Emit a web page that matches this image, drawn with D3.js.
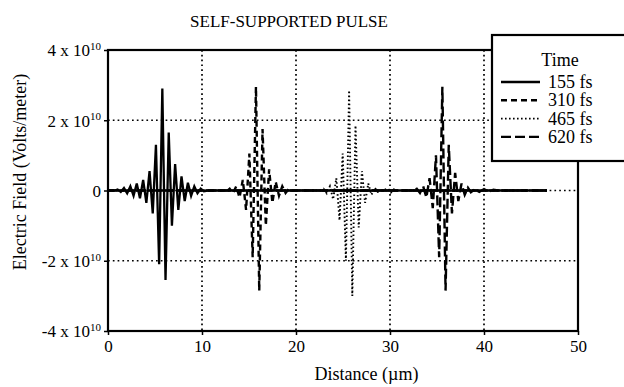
<!DOCTYPE html>
<html>
<head>
<meta charset="utf-8">
<script src="https://cdn.jsdelivr.net/npm/d3@7"></script>
<style>
  body { margin: 0; background: #fff; }
  text { font-family: "Liberation Serif", "DejaVu Serif", serif; fill: #000; }
</style>
</head>
<body>
<svg id="chart" width="624" height="387"></svg>
<script>
// axis ticks
const xTicks = [0, 10, 20, 30, 40, 50];
const yTicks = [-4, -2, 0, 2, 4];          // x 10^10 V/m
const gridX = [10, 20, 30, 40];
const gridY = [-2, 0, 2];

// pulse extrema: [distance µm, field x 10^10 V/m]
const pulse155 = [
  [0, 0], [0.7, 0], [1.02, 0.03], [1.36, -0.04], [1.70, 0.07], [2.04, -0.08], [2.38, 0.12],
  [2.72, -0.15], [3.06, 0.2], [3.40, -0.22], [3.74, 0.3], [4.08, -0.35], [4.42, 0.55],
  [4.76, -0.65], [5.10, 1.3], [5.44, -2.1], [5.78, 2.9], [6.12, -2.55], [6.46, 1.65],
  [6.80, -1.0], [7.14, 0.75], [7.48, -0.55], [7.82, 0.4], [8.16, -0.3], [8.50, 0.22],
  [8.84, -0.15], [9.18, 0.12], [9.52, -0.08], [9.86, 0.05], [10.2, -0.02], [10.6, 0], [46.7, 0]
];
const pulse310 = [
  [0, 0], [12.2, 0], [12.59, -0.03], [12.94, 0.05], [13.29, -0.08], [13.64, 0.12],
  [13.99, -0.2], [14.34, 0.3], [14.69, -0.55], [15.04, 1.05], [15.39, -1.9], [15.74, 2.95],
  [16.09, -2.85], [16.44, 1.75], [16.79, -1.0], [17.14, 0.6], [17.49, -0.35], [17.84, 0.25],
  [18.19, -0.15], [18.54, 0.12], [18.89, -0.07], [19.24, 0.05], [19.6, 0], [46.7, 0]
];
const pulse465 = [
  [0, 0], [22.6, 0], [22.93, 0.05], [23.27, -0.08], [23.61, 0.12], [23.95, -0.25],
  [24.29, 0.35], [24.63, -0.85], [24.97, 1.05], [25.31, -2.0], [25.65, 2.85], [25.99, -3.0],
  [26.33, 1.85], [26.67, -1.05], [27.01, 0.55], [27.35, -0.35], [27.69, 0.2], [28.03, -0.12],
  [28.37, 0.08], [28.7, -0.04], [29.1, 0], [29.8, 0.05], [30.1, -0.06], [30.4, 0.03],
  [30.8, 0], [46.7, 0]
];
const pulse620 = [
  [0, 0], [32.5, 0], [32.85, 0.05], [33.19, -0.07], [33.53, 0.12], [33.87, -0.2],
  [34.21, 0.35], [34.55, -0.5], [34.89, 1.0], [35.23, -1.9], [35.57, 2.95], [35.91, -2.85],
  [36.25, 1.3], [36.59, -0.65], [36.93, 0.5], [37.27, -0.3], [37.61, 0.2], [37.95, -0.12],
  [38.29, 0.08], [38.6, -0.05], [39.0, 0.03], [39.5, -0.04], [40.0, 0.04], [40.5, -0.03],
  [41.0, 0.02], [41.5, 0], [46.7, 0]
];
const seriesNames = ['155 fs', '310 fs', '465 fs', '620 fs'];

const W = 624, H = 387;
const m = { left: 108, right: 46, top: 50, bottom: 56 };

const svg = d3.select('#chart');

const x = d3.scaleLinear().domain([0, 50]).range([m.left, W - m.right]);
const y = d3.scaleLinear().domain([-4, 4]).range([H - m.bottom, m.top]);

// dotted grid
svg.append('g').selectAll('line')
  .data(gridX).enter().append('line')
  .attr('x1', d => x(d)).attr('x2', d => x(d))
  .attr('y1', y(4)).attr('y2', y(-4))
  .attr('stroke', '#000').attr('stroke-width', 1.7)
  .attr('stroke-dasharray', '1.7,3.1');

svg.append('g').selectAll('line')
  .data(gridY).enter().append('line')
  .attr('x1', x(0)).attr('x2', x(50))
  .attr('y1', d => y(d)).attr('y2', d => y(d))
  .attr('stroke', '#000').attr('stroke-width', 1.7)
  .attr('stroke-dasharray', '1.7,3.1');

// series
const styles = [
  { data: pulse155, dash: null,      w: 2.3 },
  { data: pulse310, dash: '6,4',     w: 2.4 },
  { data: pulse465, dash: '1.6,2.4', w: 1.9 },
  { data: pulse620, dash: '10,4',    w: 2.4 }
];

const line = d3.line().x(d => x(d[0])).y(d => y(d[1]));

svg.append('g').selectAll('path')
  .data(styles).enter().append('path')
  .attr('d', s => line(s.data))
  .attr('fill', 'none')
  .attr('stroke', '#000')
  .attr('stroke-width', s => s.w)
  .attr('stroke-linejoin', 'miter')
  .attr('stroke-dasharray', s => s.dash);

// frame
svg.append('rect')
  .attr('x', x(0)).attr('y', y(4))
  .attr('width', x(50) - x(0)).attr('height', y(-4) - y(4))
  .attr('fill', 'none').attr('stroke', '#000').attr('stroke-width', 2.2);

// axes
const xAxis = svg.append('g')
  .attr('transform', `translate(0,${y(-4)})`)
  .call(d3.axisBottom(x).tickValues(xTicks).tickSize(4).tickPadding(5).tickFormat(d3.format('d')));
xAxis.select('.domain').remove();
xAxis.selectAll('text').attr('font-size', 17).attr('font-family', '"Liberation Serif", serif');
xAxis.selectAll('line').attr('stroke-width', 1.5);

const yAxis = svg.append('g')
  .attr('transform', `translate(${x(0)},0)`)
  .call(d3.axisLeft(y).tickValues(yTicks).tickSize(4).tickPadding(4).tickFormat(''));
yAxis.select('.domain').remove();
yAxis.selectAll('line').attr('stroke-width', 1.5);

yAxis.selectAll('.tick').each(function(d) {
  const t = d3.select(this).append('text')
    .attr('x', -7).attr('dy', '0.35em')
    .attr('text-anchor', 'end')
    .attr('font-size', 17);
  if (d === 0) {
    t.text('0');
  } else {
    t.append('tspan').text(`${d} x 10`);
    t.append('tspan').attr('font-size', 11).attr('dy', '-0.6em').text('10');
  }
});

// titles
svg.append('text')
  .attr('x', 289).attr('y', 27)
  .attr('text-anchor', 'middle').attr('font-size', 17)
  .text('SELF-SUPPORTED PULSE');

svg.append('text')
  .attr('x', x(27.5)).attr('y', 380)
  .attr('text-anchor', 'middle').attr('font-size', 18)
  .text('Distance (µm)');

svg.append('text')
  .attr('transform', 'translate(26,172) rotate(-90)')
  .attr('text-anchor', 'middle').attr('font-size', 18)
  .text('Electric Field (Volts/meter)');

// legend
const lg = svg.append('g').attr('transform', 'translate(492,35)');
lg.append('rect')
  .attr('width', 140).attr('height', 126)
  .attr('fill', '#fff').attr('stroke', '#000').attr('stroke-width', 2.2);
lg.append('text')
  .attr('x', 68).attr('y', 31)
  .attr('text-anchor', 'middle').attr('font-size', 18)
  .text('Time');

const items = lg.selectAll('.item')
  .data(seriesNames).enter().append('g')
  .attr('class', 'item')
  .attr('transform', (d, i) => `translate(0,${47 + i * 18.3})`);
items.append('line')
  .attr('x1', 9).attr('x2', 48)
  .attr('stroke', '#000')
  .attr('stroke-width', (d, i) => styles[i].w)
  .attr('stroke-dasharray', (d, i) => styles[i].dash);
items.append('text')
  .attr('x', 56).attr('dy', '0.33em')
  .attr('font-size', 18)
  .text(d => d);
</script>
</body>
</html>
